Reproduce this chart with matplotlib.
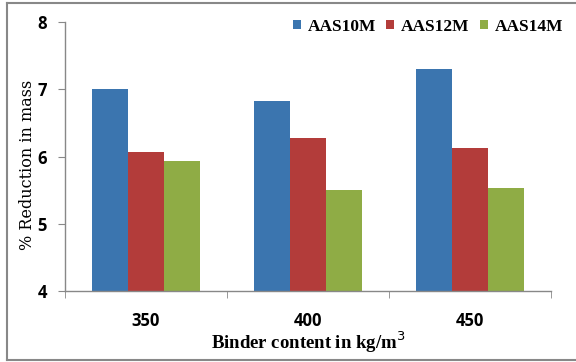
import numpy as np
import matplotlib.pyplot as plt
from matplotlib.lines import Line2D

binder = ["350", "400", "450"]
series = ["AAS10M", "AAS12M", "AAS14M"]
aas10m = [7.00, 6.82, 7.30]
aas12m = [6.06, 6.28, 6.13]
aas14m = [5.93, 5.50, 5.53]
colors = ["#3b75af", "#b33c3a", "#8fac45"]

fig = plt.figure(figsize=(5.76, 3.62), dpi=100)
ax = fig.add_axes([0.1128, 0.1961, 0.8438, 0.7431])

x = np.arange(len(binder))
w = 0.2222
for i, (vals, c, name) in enumerate(zip([aas10m, aas12m, aas14m], colors, series)):
    ax.bar(x + (i - 1) * w, np.array(vals) - 4, bottom=4, width=w,
           color=c, label=name, edgecolor="none")

ax.set_ylim(4, 8)
ax.set_xlim(-0.5, 2.5)
ax.set_yticks([4, 5, 6, 7, 8])
ax.set_xticks(x)
ax.set_xticklabels(binder)
ax.set_xticks([-0.5, 0.5, 1.5, 2.5], minor=True)
ax.tick_params(axis="x", which="major", length=0, pad=15)
ax.tick_params(axis="x", which="minor", length=5, color="#888888", direction="out")
ax.tick_params(axis="y", length=5, color="#888888", direction="out", pad=8)
for lab in ax.get_xticklabels() + ax.get_yticklabels():
    lab.set_fontfamily("Open Sans")
    lab.set_fontweight("bold")
    lab.set_fontsize(12)

for s in ["top", "right"]:
    ax.spines[s].set_visible(False)
for s in ["left", "bottom"]:
    ax.spines[s].set_color("#888888")
    ax.spines[s].set_linewidth(1.0)

ax.set_ylabel("% Reduction in mass", family="DejaVu Serif", fontsize=11.5)
ax.yaxis.set_label_coords(-0.06, 0.47)
ax.set_xlabel("Binder content in kg/m$^3$", family="Liberation Serif",
              fontweight="bold", fontsize=13.5, labelpad=0)

leg = fig.legend(loc="upper right", bbox_to_anchor=(0.978, 0.948), ncol=3, frameon=False,
                 borderaxespad=0, borderpad=0,
                 prop={"family": "Liberation Serif", "weight": "bold", "size": 12.5},
                 handlelength=0.45, handleheight=0.45, handletextpad=0.4, columnspacing=0.6)

# outer chart frame
for xs, ys in [([0.012, 1.0], [0.991, 0.991]), ([0.012, 0.012], [0.006, 0.991]),
               ([0.012, 1.0], [0.006, 0.006])]:
    fig.add_artist(Line2D(xs, ys, color="#888888", lw=1.5, transform=fig.transFigure))

fig.savefig("out.png", dpi=100)
